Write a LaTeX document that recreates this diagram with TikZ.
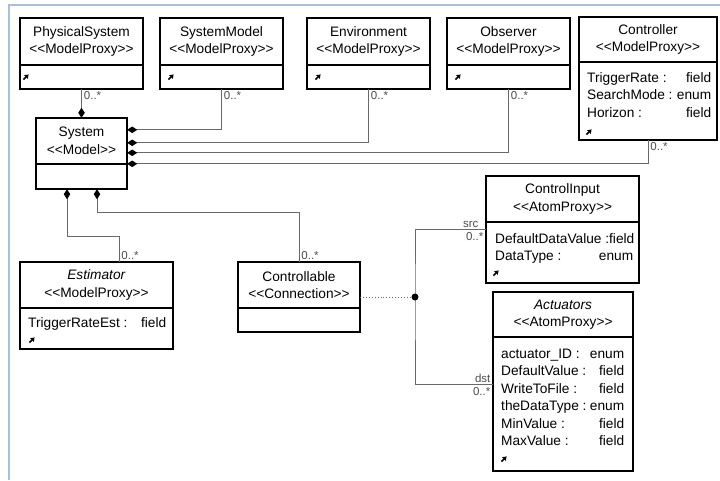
\documentclass[tikz,border=0pt]{standalone}
\usepackage{fontspec}
\setmainfont{Liberation Sans}
\usetikzlibrary{arrows.meta}
\usetikzlibrary{fit}
\definecolor{framebl}{RGB}{168,192,224}
\definecolor{linegr}{RGB}{105,105,105}
\newcommand*{\stereo}[1]{<{}<#1>{}>}
\newcommand*{\attrs}[1]{\begin{tabular}{@{}l@{}}#1\end{tabular}}
\newcommand*{\arow}[3]{\makebox[#1][l]{#2\hfill#3}}
% class box: name, x, y, width, head height, body height, title
\newcommand*{\umlclass}[7]{%
    \node [hdbox, minimum width=#4pt, minimum height=#5pt] (#1hd) at (#2,#3) {#7};
    \node [bdbox, minimum width=#4pt, minimum height=#6pt] (#1bd) at (#1hd.south west) {};
    \node [fit=(#1hd)(#1bd), inner sep=0pt] (#1) {};
}
\newcommand*{\lnkicon}[3]{\draw [lnk] ([shift={(#2pt-2.6pt,#3pt-2.6pt)}]#1.south west) -- ++(5.2pt,5.2pt);}

\begin{document}
\begin{tikzpicture}[x=1pt, y=-1pt, font=\fontsize{13.7}{17.5}\selectfont,
    hdbox/.style={draw, line width=1.3pt, inner sep=0pt, outer sep=0pt, align=center, anchor=north west},
    bdbox/.style={draw, line width=1.3pt, inner sep=0pt, outer sep=0pt, anchor=north west},
    attr/.style={inner sep=0pt, anchor=north west},
    comp/.style={draw=linegr, line width=0.9pt, -{Diamond[length=10pt, width=6.5pt, fill=black, color=black]}},
    conn/.style={draw=linegr, line width=0.9pt},
    mult/.style={font=\fontsize{11.5}{12}\selectfont, text=black!70, inner sep=2pt},
    lnk/.style={line width=1.5pt, -{Triangle[length=3.8pt, width=5pt]}}]
    \useasboundingbox (0,0) rectangle (720,480);
    \draw [framebl, line width=2pt] (9,480) -- (9,5) -- (720,5);

    % classes
    \umlclass{psys}{20}{18}{123}{47}{24}{PhysicalSystem\\\stereo{ModelProxy}}
    \umlclass{smod}{160}{18}{123}{47}{24}{SystemModel\\\stereo{ModelProxy}}
    \umlclass{env}{307}{18}{123}{47}{24}{Environment\\\stereo{ModelProxy}}
    \umlclass{obs}{447}{18}{123}{47}{24}{Observer\\\stereo{ModelProxy}}
    \umlclass{ctl}{579}{17}{138}{45}{78}{Controller\\\stereo{ModelProxy}}
    \umlclass{sys}{36}{118}{91}{46}{25}{System\\\stereo{Model}}
    \umlclass{est}{20}{262}{153}{46}{41}{\textit{Estimator}\\\stereo{ModelProxy}}
    \umlclass{cbl}{238}{262}{122}{46}{24}{Controllable\\\stereo{Connection}}
    \umlclass{cin}{486}{176}{153}{46}{61}{ControlInput\\\stereo{AtomProxy}}
    \umlclass{act}{493}{292}{140}{45}{134}{\textit{Actuators}\\\stereo{AtomProxy}}

    % attributes
    \node [attr] (ctlat) at ([shift={(8pt,-8pt)}]ctlbd.north west) {\attrs{\arow{124pt}{TriggerRate :}{field}\\\arow{124pt}{SearchMode :}{enum}\\\arow{124pt}{Horizon :}{field}}};
    \node [attr] (estat) at ([shift={(8pt,-7pt)}]estbd.north west) {\attrs{\arow{138pt}{TriggerRateEst :}{field}}};
    \node [attr] (cinat) at ([shift={(9pt,-9pt)}]cinbd.north west) {\attrs{\arow{138pt}{DefaultDataValue :}{field}\\\arow{138pt}{DataType :}{enum}}};
    \node [attr] (actat) at ([shift={(8pt,-9pt)}]actbd.north west) {\attrs{\arow{123pt}{actuator\_ID :}{enum}\\\arow{123pt}{DefaultValue :}{field}\\\arow{123pt}{WriteToFile :}{field}\\\arow{123pt}{theDataType :}{enum}\\\arow{123pt}{MinValue :}{field}\\\arow{123pt}{MaxValue :}{field}}};

    \lnkicon{psysbd}{6}{12}
    \lnkicon{smodbd}{11}{12}
    \lnkicon{envbd}{11}{12}
    \lnkicon{obsbd}{11}{12}
    \lnkicon{ctlbd}{10}{8}
    \lnkicon{estbd}{12}{9}
    \lnkicon{cinbd}{10}{10}
    \lnkicon{actbd}{11}{12}

    % compositions into System
    \draw [comp] (psys.south) -- node [mult, pos=0, anchor=north west] {0..*} (sys.north);
    \draw [comp] (smod.south) |- node [mult, pos=0, anchor=north west] {0..*} ([yshift=-12pt]sys.north east);
    \draw [comp] (env.south) |- node [mult, pos=0, anchor=north west] {0..*} ([yshift=-25pt]sys.north east);
    \draw [comp] (obs.south) |- node [mult, pos=0, anchor=north west] {0..*} ([yshift=-35pt]sys.north east);
    \draw [comp] (ctl.south) |- node [mult, pos=0, anchor=north west] {0..*} ([yshift=-46pt]sys.north east);
    \draw [comp] ([xshift=22.5pt]est.north) -- node [mult, pos=0, anchor=south west] {0..*} ++(0,-25) -| ([xshift=-14.5pt]sys.south);
    \draw [comp] (cbl.north) -- node [mult, pos=0, anchor=south west] {0..*} ++(0,-49) -| ([xshift=15.5pt]sys.south);

    % connection ends
    \coordinate (jn) at (415,297);
    \draw [linegr, line width=0.9pt, dotted] (cbl.east) -- (jn);
    \draw [conn] ([yshift=-54pt]cin.north west)
        node [mult, anchor=south east, xshift=-5pt] {src}
        node [mult, anchor=north east] {0..*}
        -| (jn) |- node [mult, pos=1, anchor=south east] {dst}
        node [mult, pos=1, anchor=north east] {0..*} ([yshift=-93pt]act.north west);
    \fill (jn) circle (3.5pt);
\end{tikzpicture}
\end{document}
